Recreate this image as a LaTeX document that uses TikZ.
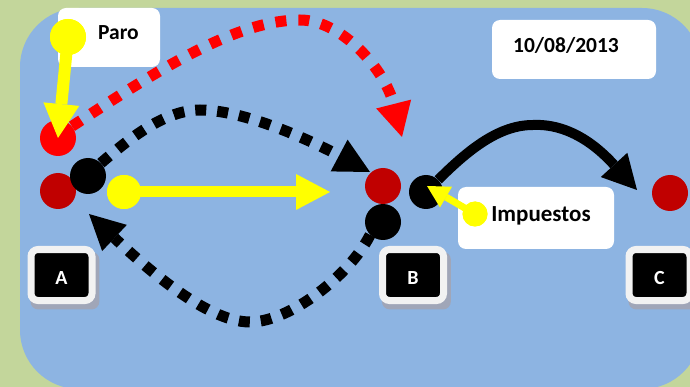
\documentclass[tikz,border=0pt]{standalone}
\usepackage{fontspec}
\setmainfont{Carlito}
\usetikzlibrary{arrows.meta,shadows}
\definecolor{bggreen}{HTML}{C3D69B}
\definecolor{bgblue}{HTML}{8DB4E2}
\definecolor{dred}{HTML}{C00000}
\definecolor{yel}{HTML}{FFFF00}
\definecolor{btnrim}{HTML}{F2F2F2}
\definecolor{shadowc}{RGB}{160,166,184}
\pgfdeclarelayer{bg}
\pgfdeclarelayer{arcs}
\pgfsetlayers{bg,arcs,main}
\begin{document}
\begin{tikzpicture}[x=1pt,y=-1pt,
  ball/.style={circle,inner sep=0pt,minimum size=36pt},
  wbox/.style={fill=white,rounded corners=8pt,inner sep=0pt},
  lbl/.style={font=\bfseries\fontsize{21.5}{24}\selectfont,inner sep=0pt,anchor=base},
  btn/.style={fill=black,draw=btnrim,line width=7pt,rounded corners=7pt,
    minimum width=61pt,minimum height=51pt,inner sep=0pt,
    drop shadow={shadow scale=1.13,shadow xshift=3pt,shadow yshift=-5pt,fill=shadowc,opacity=1}},
  btnlbl/.style={font=\bfseries\fontsize{20}{22}\selectfont,text=white,inner sep=0pt,anchor=base},
  reddots/.style={draw=red,line width=11pt,dash pattern=on 11pt off 12pt,
    -{Triangle[length=34pt,width=36pt,line width=0pt]}},
  blackdots/.style={draw=black,line width=11pt,dash pattern=on 11pt off 11pt,
    -{Triangle[length=35pt,width=36pt,line width=0pt]}},
  blackline/.style={draw=black,line width=10pt,
    -{Triangle[length=34pt,width=36pt,line width=0pt]}},
  yelarrow/.style={draw=yel,line width=12pt,
    -{Triangle[length=34pt,width=36pt,line width=0pt]}},
  yelsmall/.style={draw=yel,line width=7pt,
    -{Triangle[length=22pt,width=24pt,line width=0pt]}}
]
\useasboundingbox (0,0) rectangle (690,387);
\clip (0,0) rectangle (690,387);
\begin{pgfonlayer}{bg}
  \fill[bggreen] (0,0) rectangle (690,387);
  \fill[bgblue,rounded corners=59pt] (20,8) rectangle (701,389);
\end{pgfonlayer}

% white label boxes
\node[wbox,minimum width=102pt,minimum height=59pt] (paroBox) at (109,37.5) {};
\node[wbox,minimum width=164pt,minimum height=59pt] (dateBox) at (574,49.5) {};
\node[wbox,minimum width=156pt,minimum height=62pt] (impBox) at (536,218) {};
\node[lbl] (paro) at (118.5,40) {Paro};
\node[lbl] (date) at (566,52.5) {10/08/2013};
\node[lbl,font=\bfseries\fontsize{23}{25}\selectfont] (imp) at (541,221.5) {Impuestos};

% buttons
\node[btn] (btnA) at (61.5,275) {};
\node[btn] (btnB) at (413,275) {};
\node[btn] (btnC) at (659.5,275) {};
\node[btnlbl] (labA) at (61.5,284) {A};
\node[btnlbl] (labB) at (413,284) {B};
\node[btnlbl] (labC) at (659.5,284) {C};

% circles
\node[ball,fill=red] (redA) at (58,138) {};
\node[ball,fill=dred] (dredA) at (58,191) {};
\node[ball,fill=black] (blkA) at (88,176) {};
\node[ball,fill=dred] (dredB) at (383,186) {};
\node[ball,fill=black] (blkB) at (383,222) {};
\node[ball,fill=black,minimum size=34pt] (blkB2) at (426,192) {};
\node[ball,fill=dred] (dredC) at (670,193) {};

\coordinate (redTip) at (402,137);
\coordinate (topTip) at (370,172);
\coordinate (botTip) at (89,214);
\coordinate (solTip) at (637,190);
\coordinate (yelTip) at (330,192);
\coordinate (impTip) at (427,186);

\begin{pgfonlayer}{arcs}
  \draw[reddots] (redA.40) .. controls (155,72) and (235,20) .. (300,20)
        .. controls (342,20) and (385,70) .. (redTip);
  \draw[blackdots] (blkA.45) .. controls (130,138) and (165,110) .. (200,110)
        .. controls (250,110) and (325,148) .. (topTip);
  \draw[blackdots] (blkB.225) .. controls (350,275) and (290,322) .. (250,322)
        .. controls (205,322) and (140,262) .. (botTip);
  \draw[blackline] (blkB2.45) .. controls (470,148) and (500,125) .. (533,125)
        .. controls (575,123) and (605,155) .. (solTip);
\end{pgfonlayer}

% yellow arrows
\node[ball,fill=yel] (yelTop) at (68,37) {};
\node[ball,fill=yel,minimum size=34pt] (yelA) at (124,192) {};
\node[ball,fill=yel,minimum size=25pt] (yelImp) at (475,214) {};
\draw[yelarrow] (yelTop.center) -- (redA.center);
\draw[yelarrow,line width=11pt] (yelA.center) -- (yelTip);
\draw[yelsmall] (yelImp.center) -- (impTip);
\fill[yel] (yelTop.center) circle (18pt);
\fill[yel] (yelA.center) circle (17pt);
\fill[yel] (yelImp.center) circle (12.5pt);
\end{tikzpicture}
\end{document}
